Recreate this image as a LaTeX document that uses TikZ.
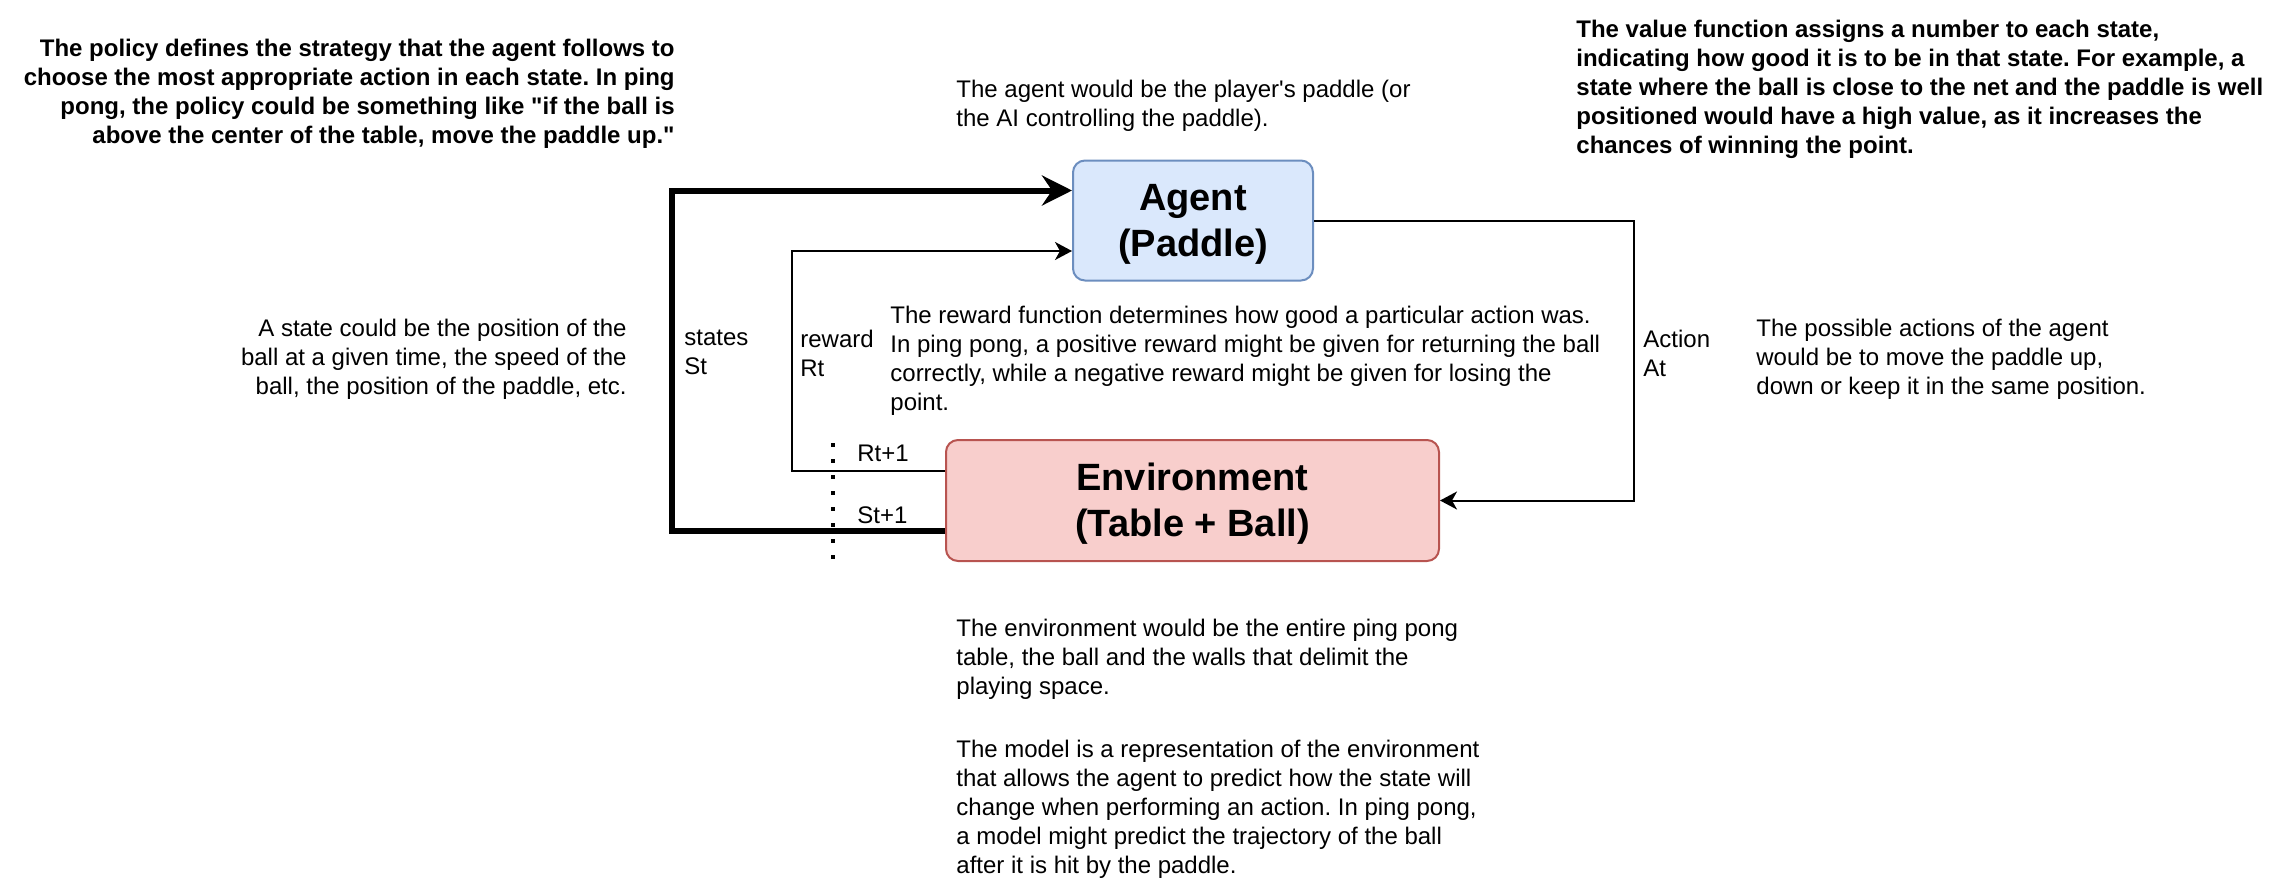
\documentclass[tikz,border=0pt]{standalone}
\usepackage{fontspec}
\setmainfont{Liberation Sans}
\usetikzlibrary{arrows.meta}
\frenchspacing
\definecolor{agentfill}{HTML}{DAE8FC}
\definecolor{agentdraw}{HTML}{6C8EBF}
\definecolor{envfill}{HTML}{F8CECC}
\definecolor{envdraw}{HTML}{B85450}
\tikzset{
  txt/.style={inner sep=0pt, align=left, anchor=north west, font=\fontsize{12}{14.5}\selectfont},
  txtr/.style={inner sep=0pt, align=right, anchor=north east, font=\fontsize{12}{14.5}\selectfont},
  boldtxt/.style={txt, font=\fontsize{12}{14.5}\selectfont\bfseries},
  boldtxtr/.style={txtr, font=\fontsize{12}{14.5}\selectfont\bfseries},
  box/.style={rounded corners=6pt, line width=1pt, align=center, inner sep=0pt,
    font=\fontsize{19}{23}\selectfont\bfseries},
  thinarrow/.style={line width=1pt, -{Stealth[length=8.5pt,width=9pt,inset=2.5pt]}},
  thickarrow/.style={line width=3pt, -{Stealth[length=15pt,width=15pt,inset=5pt]}},
  dotline/.style={line width=2pt, dash pattern=on 2pt off 6pt},
}
\begin{document}
\begin{tikzpicture}[x=0.5pt,y=-0.5pt]
\useasboundingbox (0,0) rectangle (2272,878);
% main boxes
\node[box, fill=agentfill, draw=agentdraw, minimum width=120pt, minimum height=60pt] (agent) at (1193,220.5) {\rule{0pt}{17pt}Agent\\(Paddle)};
\node[box, fill=envfill, draw=envdraw, minimum width=246.5pt, minimum height=60.5pt] (env) at (1192.5,500.5) {\rule{0pt}{16.5pt}Environment\\(Table + Ball)};
% connectors
\draw[thickarrow] ([yshift=-15.25pt]env.west) -- ++(-273,0) |- ([yshift=15pt]agent.west);
\draw[thinarrow] ([yshift=14.75pt]env.west) -- ++(-153,0) |- ([yshift=-15.25pt]agent.west);
\draw[thinarrow] (agent.east) -- ++(320,0) |- (env.east);
% dotted separator
\draw[dotline] (833,443) -- (833,565);
% labels
\node[txt] (rt1) at (857,445) {Rt+1};
\node[txt] (st1) at (857,506) {St+1};
\node[txt] (states) at (684,330) {states\\St};
\node[txt] (reward) at (800,330) {reward\\Rt};
\node[txt] (action) at (1643,330) {Action\\At};
% descriptions
\node[boldtxtr] (policy) at (675,39) {The policy defines the strategy that the agent follows to\\choose the most appropriate action in each state. In ping\\pong, the policy could be something like \textquotedbl if the ball is\\above the center of the table, move the paddle up.\textquotedbl};
\node[boldtxt] (value) at (1576,20) {The value function assigns a number to each state,\\indicating how good it is to be in that state. For example, a\\state where the ball is close to the net and the paddle is well\\positioned would have a high value, as it increases the\\chances of winning the point.};
\node[txt] (agentdesc) at (956,80) {The agent would be the player\textquotesingle s paddle (or\\the AI controlling the paddle).};
\node[txtr] (statedesc) at (627,319) {A state could be the position of the\\ball at a given time, the speed of the\\ball, the position of the paddle, etc.};
\node[txt] (rewarddesc) at (890,306) {The reward function determines how good a particular action was.\\In ping pong, a positive reward might be given for returning the ball\\correctly, while a negative reward might be given for losing the\\point.};
\node[txt] (actiondesc) at (1756,319) {The possible actions of the agent\\would be to move the paddle up,\\down or keep it in the same position.};
\node[txt] (envdesc) at (956,619) {The environment would be the entire ping pong\\table, the ball and the walls that delimit the\\playing space.};
\node[txt] (modeldesc) at (956,740) {The model is a representation of the environment\\that allows the agent to predict how the state will\\change when performing an action. In ping pong,\\a model might predict the trajectory of the ball\\after it is hit by the paddle.};
\end{tikzpicture}
\end{document}
